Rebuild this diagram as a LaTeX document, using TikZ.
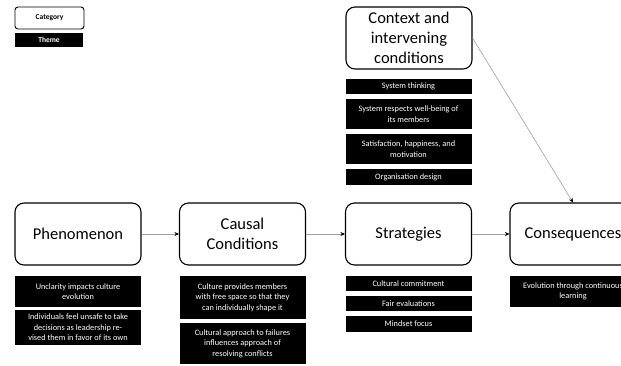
\documentclass[tikz,border=0pt]{standalone}
\usepackage{fontspec}
\setmainfont{Carlito}
\usetikzlibrary{arrows.meta}
\begin{document}
\begin{tikzpicture}[x=1pt,y=-1pt,
  category/.style={draw=black,line width=1.1pt,fill=white,rounded corners=9pt,
    minimum width=126pt,minimum height=62pt,inner sep=2pt,align=center,
    font=\fontsize{16.5}{20}\selectfont},
  theme/.style={fill=black,text=white,minimum width=126pt,inner sep=1pt,
    align=center,font=\fontsize{8.3}{10.5}\selectfont},
  flow/.style={draw=gray!75,line width=0.6pt,
    -{Stealth[length=4.5pt,width=4pt,black]}}]
\useasboundingbox (0,0) rectangle (621,365);
\clip (0,0) rectangle (621,365);
\fill[white] (0,0) rectangle (621,365);

% legend
\node[draw=black,line width=0.9pt,rounded corners=3pt,minimum width=69pt,
  minimum height=22pt,inner sep=0pt,font=\fontsize{7.5}{9}\selectfont\bfseries]
  (legcat) at (49.5,18) {Category};
\node[fill=black,text=white,minimum width=68pt,minimum height=14pt,inner sep=0pt,
  font=\fontsize{7.5}{9}\selectfont\bfseries] (legtheme) at (49,40) {Theme};

% categories
\node[category] (phen) at (78,234) {Phenomenon};
\node[category] (causal) at (242.5,234) {Causal\\Conditions};
\node[category] (strat) at (408.5,234) {Strategies};
\node[category] (cons) at (573,234) {Consequences};
\node[category] (context) at (409,38) {Context and\\intervening\\conditions};

% themes: context and intervening conditions
\node[theme,minimum height=15pt] (c1) at (408.5,86.5) {System thinking};
\node[theme,minimum height=30pt] (c2) at (408.5,114) {System respects well-being of\\its members};
\node[theme,minimum height=30pt] (c3) at (408.5,149) {Satisfaction, happiness, and\\motivation};
\node[theme,minimum height=16pt] (c4) at (408.5,177) {Organisation design};

% themes: phenomenon
\node[theme,minimum height=31pt] (p1) at (78,291.5) {Unclarity impacts culture\\evolution};
\node[theme,minimum height=35pt] (p2) at (78,327.5) {Individuals feel unsafe to take\\decisions as leadership re-\\vised them in favor of its own};

% themes: causal conditions
\node[theme,minimum height=43pt] (k1) at (242.5,297.5) {Culture provides members\\with free space so that they\\can individually shape it};
\node[theme,minimum height=41pt] (k2) at (242.5,343.5) {Cultural approach to failures\\influences approach of\\resolving conflicts};

% themes: strategies
\node[theme,minimum height=15pt] (s1) at (408.5,283.5) {Cultural commitment};
\node[theme,minimum height=15pt] (s2) at (408.5,303.5) {Fair evaluations};
\node[theme,minimum height=16pt] (s3) at (408.5,324) {Mindset focus};

% themes: consequences
\node[theme,minimum height=31pt] (q1) at (573,291.5) {Evolution through continuous\\learning};

% connectors
\draw[flow] (phen) -- (causal);
\draw[flow] (causal) -- (strat);
\draw[flow] (strat) -- (cons);
\draw[flow] (context.east) -- (cons.north);
\end{tikzpicture}
\end{document}
